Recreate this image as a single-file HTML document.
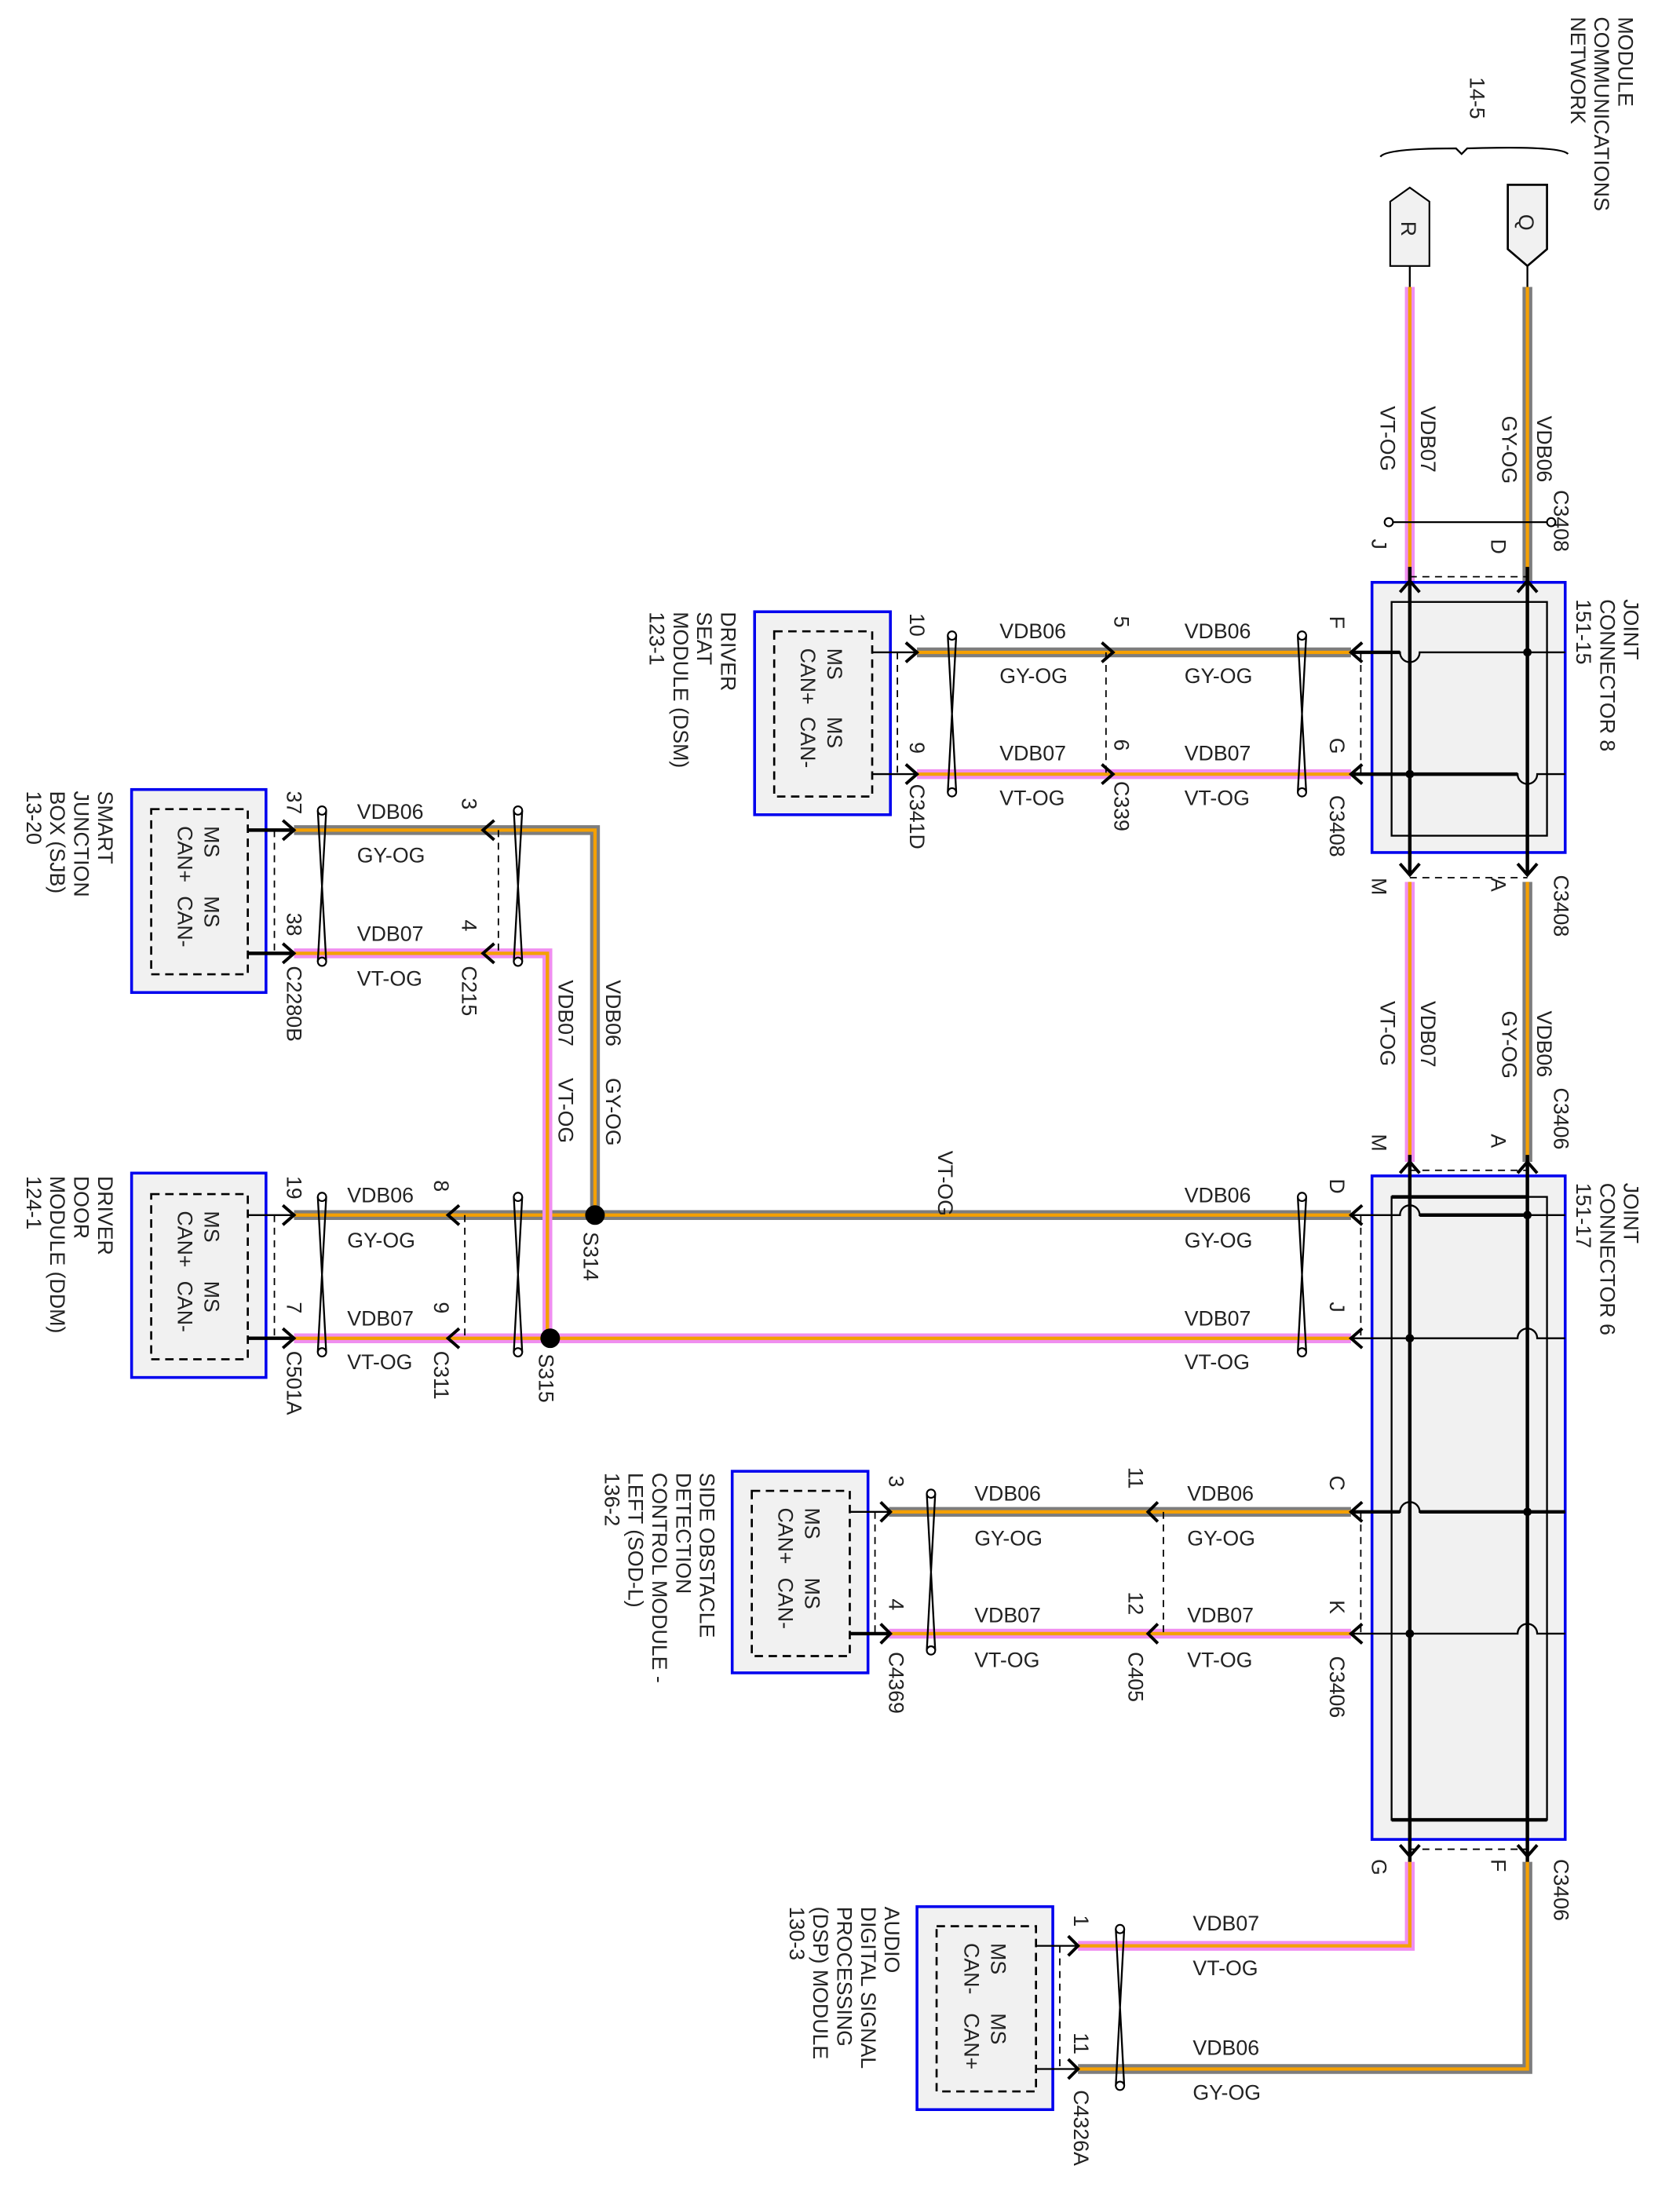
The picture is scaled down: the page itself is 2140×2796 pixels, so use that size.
<!DOCTYPE html>
<html><head><meta charset="utf-8"><style>
html,body{margin:0;padding:0;background:#fff}
svg{display:block}
text{font-family:"Liberation Sans",sans-serif;font-size:15px;fill:#222}
.g1{stroke:#7d7d7d;stroke-width:7;fill:none}
.v1{stroke:#f08ef0;stroke-width:7;fill:none}
.o{stroke:#f5a000;stroke-width:2.4;fill:none}
.k{stroke:#000;stroke-width:1.3;fill:none}
.kb{stroke:#000;stroke-width:2.5;fill:none}
.d{stroke:#000;stroke-width:1;fill:none;stroke-dasharray:5 4}
.bx{fill:#f1f1f1;stroke:#0000ee;stroke-width:2}
.in{fill:none;stroke:#000;stroke-width:1.5;stroke-dasharray:6 4}
.ar{stroke:#000;stroke-width:2.2;fill:none}
.sp{stroke:#000;stroke-width:1.3;fill:none}
.sc{fill:#fff;stroke:#000;stroke-width:1.2}
</style></head><body>
<svg width="2140" height="2796" viewBox="0 0 1200 1568" preserveAspectRatio="none" xmlns="http://www.w3.org/2000/svg">

<text transform="translate(1156,12) rotate(90)">MODULE</text>
<text transform="translate(1139,12) rotate(90)">COMMUNICATIONS</text>
<text transform="translate(1122,12) rotate(90)">NETWORK</text>
<text transform="translate(1050,55) rotate(90)">14-5</text>
<path d="M986 112 Q990 106 1040 106 L1044 110 L1048 106 Q1115 104 1120 110" class="k"/>

<path d="M1077 132 H1105 V178 L1091 190 L1077 178 Z" fill="#f1f1f1" stroke="#000" stroke-width="1.5"/>
<text transform="translate(1085,153) rotate(90)">Q</text>
<path d="M993 190 H1021 V144 L1007 134 L993 144 Z" fill="#f1f1f1" stroke="#000" stroke-width="1.2"/>
<text transform="translate(1001,158) rotate(90)">R</text>
<path d="M1091 190 V205 M1007 190 V205" class="k"/>

<g>
<path class="g1" d="M1091 205 V415 M965 466 H655 M1091 630 V830 M965 868 H210 M425 868 V593 H210 M965 1080 H635 M1091 1330 V1478 H770"/>
<path class="o" d="M1091 205 V415 M965 466 H655 M1091 630 V830 M965 868 H210 M425 868 V593 H210 M965 1080 H635 M1091 1330 V1478 H770"/>
<path class="v1" d="M1007 205 V415 M965 553 H655 M1007 630 V830 M965 956 H210 M391 956 V681 H210 M965 1167 H635 M1007 1330 V1390 H770"/>
<path class="o" d="M1007 205 V415 M965 553 H655 M1007 630 V830 M965 956 H210 M391 956 V681 H210 M965 1167 H635 M1007 1330 V1390 H770"/>
</g>

<text transform="translate(1098,297) rotate(90)">VDB06</text>
<text transform="translate(1073,297) rotate(90)">GY-OG</text>
<text transform="translate(1015,290) rotate(90)">VDB07</text>
<text transform="translate(986,290) rotate(90)">VT-OG</text>
<text transform="translate(1110,350) rotate(90)">C3408</text>
<text transform="translate(980,385) rotate(90)">J</text>
<text transform="translate(1065,385) rotate(90)">D</text>
<path d="M992 373 H1108" class="sp"/><circle cx="992" cy="373" r="3" class="sc"/><circle cx="1108" cy="373" r="3" class="sc"/>

<rect x="980" y="416" width="138" height="193" class="bx"/>
<rect x="994" y="430" width="111" height="167" fill="none" stroke="#000" stroke-width="1.3"/>
<text transform="translate(1160,428) rotate(90)">JOINT</text>
<text transform="translate(1143,428) rotate(90)">CONNECTOR 8</text>
<text transform="translate(1126,428) rotate(90)">151-15</text>
<path class="kb" d="M1007 405 V625 M1091 405 V625"/>
<path class="k" d="M965 466 H1000 A7 7 0 0 0 1014 466 H1118 M965 553 H1084 A7 7 0 0 0 1098 553 H1118"/>
<path class="kb" d="M965 553 H1084 M965 466 H1000"/>
<circle cx="1091" cy="466" r="3"/><circle cx="1007" cy="553" r="3"/>
<path class="d" d="M1007 412 H1091 M972 466 V553 M1007 627 H1091"/>
<path class="ar" d="M1000 423 L1007 415 L1014 423 M1084 423 L1091 415 L1098 423 M1000 617 L1007 625 L1014 617 M1084 617 L1091 625 L1098 617"/>
<text transform="translate(950,440) rotate(90)">F</text>
<text transform="translate(950,527) rotate(90)">G</text>
<text transform="translate(950,568) rotate(90)">C3408</text>
<text transform="translate(1110,625) rotate(90)">C3408</text>
<text transform="translate(980,627) rotate(90)">M</text>
<text transform="translate(1065,627) rotate(90)">A</text>

<text transform="translate(1098,722) rotate(90)">VDB06</text>
<text transform="translate(1073,722) rotate(90)">GY-OG</text>
<text transform="translate(1015,715) rotate(90)">VDB07</text>
<text transform="translate(986,715) rotate(90)">VT-OG</text>
<text transform="translate(1110,777) rotate(90)">C3406</text>
<text transform="translate(980,810) rotate(90)">M</text>
<text transform="translate(1065,810) rotate(90)">A</text>

<rect x="980" y="840" width="138" height="474" class="bx"/>
<rect x="994" y="855" width="111" height="445" fill="none" stroke="#000" stroke-width="1.3"/>
<path class="kb" d="M994 855 H1091 M994 1300 H1105"/>
<text transform="translate(1160,845) rotate(90)">JOINT</text>
<text transform="translate(1143,845) rotate(90)">CONNECTOR 6</text>
<text transform="translate(1126,845) rotate(90)">151-17</text>
<path class="kb" d="M1007 825 V1330 M1091 825 V1330"/>
<path class="k" d="M965 868 H1000 A7 7 0 0 1 1014 868 H1118 M965 956 H1084 A7 7 0 0 1 1098 956 H1118 M965 1080 H1000 A7 7 0 0 1 1014 1080 H1118 M965 1167 H1084 A7 7 0 0 1 1098 1167 H1118"/>
<path class="kb" d="M1014 868 H1091 M965 1080 H1000 M1014 1080 H1118"/>
<circle cx="1091" cy="868" r="3"/><circle cx="1007" cy="956" r="3"/><circle cx="1091" cy="1080" r="3"/><circle cx="1007" cy="1167" r="3"/>
<path class="d" d="M1007 836 H1091 M972 868 V956 M972 1080 V1167 M1007 1321 H1091"/>
<path class="ar" d="M1000 838 L1007 830 L1014 838 M1084 838 L1091 830 L1098 838 M1000 1318 L1007 1326 L1014 1318 M1084 1318 L1091 1326 L1098 1318"/>
<text transform="translate(950,842) rotate(90)">D</text>
<text transform="translate(950,930) rotate(90)">J</text>
<text transform="translate(950,1054) rotate(90)">C</text>
<text transform="translate(950,1143) rotate(90)">K</text>
<text transform="translate(950,1183) rotate(90)">C3406</text>
<text transform="translate(980,1328) rotate(90)">G</text>
<text transform="translate(1065,1328) rotate(90)">F</text>
<text transform="translate(1110,1328) rotate(90)">C3406</text>

<path class="ar" d="M973 459 L965 466 L973 473 M973 546 L965 553 L973 560 M973 861 L965 868 L973 875 M973 949 L965 956 L973 963 M973 1073 L965 1080 L973 1087 M973 1160 L965 1167 L973 1174"/>

<rect x="539" y="437" width="97" height="145" class="bx"/>
<rect x="553" y="451" width="70" height="118" class="in"/>
<text transform="translate(591,463) rotate(90)">MS</text><text transform="translate(572,463) rotate(90)">CAN+</text>
<text transform="translate(591,512) rotate(90)">MS</text><text transform="translate(572,512) rotate(90)">CAN-</text>
<path class="k" d="M623 466 H655 M623 553 H655"/>
<text transform="translate(515,437) rotate(90)">DRIVER</text>
<text transform="translate(498,437) rotate(90)">SEAT</text>
<text transform="translate(481,437) rotate(90)">MODULE (DSM)</text>
<text transform="translate(464,437) rotate(90)">123-1</text>
<path class="ar" d="M647 459 L655 466 L647 473 M647 546 L655 553 L647 560 M787 459 L795 466 L787 473 M787 546 L795 553 L787 560"/>
<path class="d" d="M641 466 V553 M790 466 V553"/>
<text transform="translate(650,438) rotate(90)">10</text>
<text transform="translate(650,530) rotate(90)">9</text>
<text transform="translate(650,560) rotate(90)">C341D</text>
<text transform="translate(796,440) rotate(90)">5</text>
<text transform="translate(796,528) rotate(90)">6</text>
<text transform="translate(796,558) rotate(90)">C339</text>
<text x="714" y="456">VDB06</text><text x="714" y="488">GY-OG</text>
<text x="714" y="543">VDB07</text><text x="714" y="575">VT-OG</text>
<text x="846" y="456">VDB06</text><text x="846" y="488">GY-OG</text>
<text x="846" y="543">VDB07</text><text x="846" y="575">VT-OG</text>

<rect x="94" y="564" width="96" height="145" class="bx"/>
<rect x="108" y="578" width="69" height="118" class="in"/>
<text transform="translate(146,590) rotate(90)">MS</text><text transform="translate(127,590) rotate(90)">CAN+</text>
<text transform="translate(146,640) rotate(90)">MS</text><text transform="translate(127,640) rotate(90)">CAN-</text>
<path class="kb" d="M177 593 H210 M177 681 H210"/>
<text transform="translate(70,565) rotate(90)">SMART</text>
<text transform="translate(53,565) rotate(90)">JUNCTION</text>
<text transform="translate(36,565) rotate(90)">BOX (SJB)</text>
<text transform="translate(19,565) rotate(90)">13-20</text>
<path class="ar" d="M202 586 L210 593 L202 600 M202 674 L210 681 L202 688 M353 586 L345 593 L353 600 M353 674 L345 681 L353 688"/>
<path class="d" d="M196 593 V681 M356 593 V681"/>
<text transform="translate(205,565) rotate(90)">37</text>
<text transform="translate(205,652) rotate(90)">38</text>
<text transform="translate(205,690) rotate(90)">C2280B</text>
<text transform="translate(330,570) rotate(90)">3</text>
<text transform="translate(330,657) rotate(90)">4</text>
<text transform="translate(330,690) rotate(90)">C215</text>
<text x="255" y="585">VDB06</text><text x="255" y="616">GY-OG</text>
<text x="255" y="672">VDB07</text><text x="255" y="704">VT-OG</text>
<text transform="translate(433,700) rotate(90)">VDB06</text>
<text transform="translate(433,770) rotate(90)">GY-OG</text>
<text transform="translate(399,700) rotate(90)">VDB07</text>
<text transform="translate(399,770) rotate(90)">VT-OG</text>

<rect x="94" y="838" width="96" height="146" class="bx"/>
<rect x="108" y="853" width="69" height="118" class="in"/>
<text transform="translate(146,865) rotate(90)">MS</text><text transform="translate(127,865) rotate(90)">CAN+</text>
<text transform="translate(146,915) rotate(90)">MS</text><text transform="translate(127,915) rotate(90)">CAN-</text>
<path class="k" d="M177 868 H210"/><path class="kb" d="M177 956 H210"/>
<text transform="translate(70,840) rotate(90)">DRIVER</text>
<text transform="translate(53,840) rotate(90)">DOOR</text>
<text transform="translate(36,840) rotate(90)">MODULE (DDM)</text>
<text transform="translate(19,840) rotate(90)">124-1</text>
<path class="ar" d="M202 861 L210 868 L202 875 M202 949 L210 956 L202 963 M328 861 L320 868 L328 875 M328 949 L320 956 L328 963"/>
<path class="d" d="M196 868 V956 M332 868 V956"/>
<text transform="translate(205,840) rotate(90)">19</text>
<text transform="translate(205,930) rotate(90)">7</text>
<text transform="translate(205,965) rotate(90)">C501A</text>
<text transform="translate(310,843) rotate(90)">8</text>
<text transform="translate(310,930) rotate(90)">9</text>
<text transform="translate(310,965) rotate(90)">C311</text>
<text x="248" y="859">VDB06</text><text x="248" y="891">GY-OG</text>
<text x="248" y="947">VDB07</text><text x="248" y="978">VT-OG</text>
<circle cx="425" cy="868" r="7"/><circle cx="393" cy="956" r="7"/>
<text transform="translate(417,880) rotate(90)">S314</text>
<text transform="translate(385,967) rotate(90)">S315</text>
<text x="846" y="859">VDB06</text><text x="846" y="891">GY-OG</text>
<text x="846" y="947">VDB07</text><text x="846" y="978">VT-OG</text>
<text transform="translate(670,822) rotate(90)">VT-OG</text>
<rect x="684" y="840" width="14" height="24" fill="#fff"/>

<rect x="523" y="1051" width="97" height="144" class="bx"/>
<rect x="537" y="1065" width="70" height="118" class="in"/>
<text transform="translate(575,1077) rotate(90)">MS</text><text transform="translate(556,1077) rotate(90)">CAN+</text>
<text transform="translate(575,1127) rotate(90)">MS</text><text transform="translate(556,1127) rotate(90)">CAN-</text>
<path class="k" d="M607 1080 H636"/><path class="kb" d="M607 1167 H636"/>
<text transform="translate(500,1052) rotate(90)">SIDE OBSTACLE</text>
<text transform="translate(483,1052) rotate(90)">DETECTION</text>
<text transform="translate(466,1052) rotate(90)">CONTROL MODULE -</text>
<text transform="translate(449,1052) rotate(90)">LEFT (SOD-L)</text>
<text transform="translate(432,1052) rotate(90)">136-2</text>
<path class="ar" d="M629 1073 L636 1080 L629 1087 M629 1160 L636 1167 L629 1174 M827 1073 L820 1080 L827 1087 M827 1160 L820 1167 L827 1174"/>
<path class="d" d="M625 1080 V1167 M831 1080 V1167"/>
<text transform="translate(635,1054) rotate(90)">3</text>
<text transform="translate(635,1142) rotate(90)">4</text>
<text transform="translate(635,1180) rotate(90)">C4369</text>
<text transform="translate(806,1048) rotate(90)">11</text>
<text transform="translate(806,1137) rotate(90)">12</text>
<text transform="translate(806,1180) rotate(90)">C405</text>
<text x="696" y="1072">VDB06</text><text x="696" y="1104">GY-OG</text>
<text x="696" y="1159">VDB07</text><text x="696" y="1191">VT-OG</text>
<text x="848" y="1072">VDB06</text><text x="848" y="1104">GY-OG</text>
<text x="848" y="1159">VDB07</text><text x="848" y="1191">VT-OG</text>

<rect x="655" y="1362" width="97" height="145" class="bx"/>
<rect x="669" y="1376" width="71" height="118" class="in"/>
<text transform="translate(708,1388) rotate(90)">MS</text><text transform="translate(689,1388) rotate(90)">CAN-</text>
<text transform="translate(708,1438) rotate(90)">MS</text><text transform="translate(689,1438) rotate(90)">CAN+</text>
<path class="k" d="M740 1390 H770 M740 1478 H770"/>
<text transform="translate(632,1362) rotate(90)">AUDIO</text>
<text transform="translate(615,1362) rotate(90)">DIGITAL SIGNAL</text>
<text transform="translate(598,1362) rotate(90)">PROCESSING</text>
<text transform="translate(581,1362) rotate(90)">(DSP) MODULE</text>
<text transform="translate(564,1362) rotate(90)">130-3</text>
<path class="ar" d="M763 1383 L770 1390 L763 1397 M763 1471 L770 1478 L763 1485"/>
<path class="d" d="M757 1390 V1478"/>
<text transform="translate(767,1368) rotate(90)">1</text>
<text transform="translate(767,1452) rotate(90)">11</text>
<text transform="translate(767,1493) rotate(90)">C4326A</text>
<text x="852" y="1379">VDB07</text><text x="852" y="1411">VT-OG</text>
<text x="852" y="1468">VDB06</text><text x="852" y="1500">GY-OG</text>

<g class="sp">
<path d="M677 454 L683 566 M683 454 L677 566"/>
<path d="M927 454 L933 566 M933 454 L927 566"/>
<path d="M227 579 L233 687 M233 579 L227 687"/>
<path d="M367 579 L373 687 M373 579 L367 687"/>
<path d="M227 855 L233 966 M233 855 L227 966"/>
<path d="M367 855 L373 966 M373 855 L367 966"/>
<path d="M927 855 L933 966 M933 855 L927 966"/>
<path d="M662 1067 L668 1179 M668 1067 L662 1179"/>
<path d="M797 1378 L803 1490 M803 1378 L797 1490"/>
</g>
<g class="sc">
<circle cx="680" cy="454" r="3"/><circle cx="680" cy="566" r="3"/>
<circle cx="930" cy="454" r="3"/><circle cx="930" cy="566" r="3"/>
<circle cx="230" cy="579" r="3"/><circle cx="230" cy="687" r="3"/>
<circle cx="370" cy="579" r="3"/><circle cx="370" cy="687" r="3"/>
<circle cx="230" cy="855" r="3"/><circle cx="230" cy="966" r="3"/>
<circle cx="370" cy="855" r="3"/><circle cx="370" cy="966" r="3"/>
<circle cx="930" cy="855" r="3"/><circle cx="930" cy="966" r="3"/>
<circle cx="665" cy="1067" r="3"/><circle cx="665" cy="1179" r="3"/>
<circle cx="800" cy="1378" r="3"/><circle cx="800" cy="1490" r="3"/>
</g>
</svg>
</body></html>
